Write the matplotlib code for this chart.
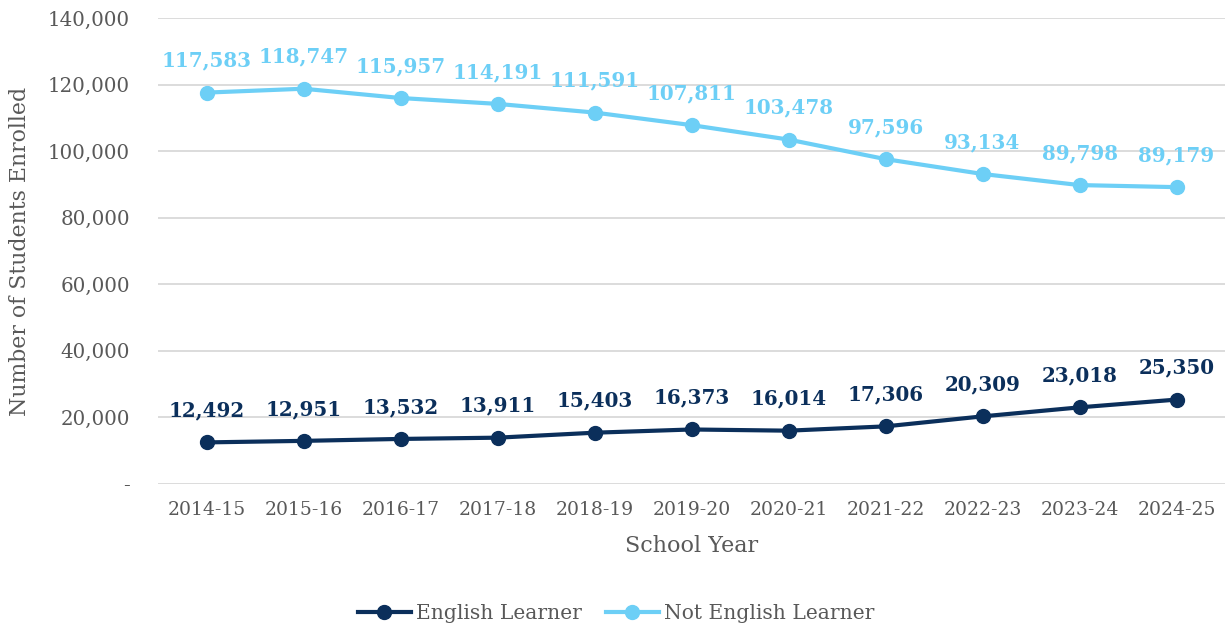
import matplotlib
matplotlib.use("Agg")
import matplotlib.pyplot as plt
from matplotlib.ticker import FuncFormatter

years = ["2014-15", "2015-16", "2016-17", "2017-18", "2018-19", "2019-20",
         "2020-21", "2021-22", "2022-23", "2023-24", "2024-25"]
english_learner = [12492, 12951, 13532, 13911, 15403, 16373, 16014, 17306, 20309, 23018, 25350]
not_english_learner = [117583, 118747, 115957, 114191, 111591, 107811, 103478, 97596, 93134, 89798, 89179]

plt.rcParams['font.family'] = ['DejaVu Serif']
dark = "#0B2F5B"
light = "#6DCFF6"
grey = "#595959"

fig = plt.figure(figsize=(12.25, 6.31), dpi=100)
ax = fig.add_axes([0.129, 0.233, 0.871, 0.7385])

x = list(range(len(years)))
ax.plot(x, english_learner, color=dark, lw=3, marker='o', ms=10, label="English Learner", zorder=3)
ax.plot(x, not_english_learner, color=light, lw=3, marker='o', ms=10, label="Not English Learner", zorder=3)

for xi, v in zip(x, english_learner):
    ax.annotate(f"{v:,}", (xi, v), xytext=(0, 23), textcoords='offset points',
                ha='center', va='center', fontsize=14.3, fontweight='bold', color=dark)
for xi, v in zip(x, not_english_learner):
    ax.annotate(f"{v:,}", (xi, v), xytext=(0, 23), textcoords='offset points',
                ha='center', va='center', fontsize=14.3, fontweight='bold', color=light)

ax.set_xlim(-0.5, len(years) - 0.5)
ax.set_ylim(0, 140000)
ax.set_yticks(range(0, 140001, 20000))
ax.yaxis.set_major_formatter(FuncFormatter(lambda v, p: "-" if v == 0 else f"{int(v):,}"))
ax.set_xticks(x)
ax.set_xticklabels(years)
ax.grid(axis='y', color="#D9D9D9", lw=1.3)
ax.set_axisbelow(True)
for s in ax.spines.values():
    s.set_visible(False)
ax.tick_params(axis='both', length=0, colors=grey)
ax.tick_params(axis='y', pad=20, labelsize=14.3)
ax.tick_params(axis='x', pad=12, labelsize=13.5)
ax.set_xlabel("School Year", fontsize=16, color=grey, labelpad=12)
ax.set_ylabel("Number of Students Enrolled", fontsize=15.8, color=grey, labelpad=12)

leg = fig.legend(loc='center', bbox_to_anchor=(0.503, 0.027), ncol=2, frameon=False,
                 fontsize=14.6, handlelength=2.6, columnspacing=1.2, handletextpad=0.25)
for t in leg.get_texts():
    t.set_color(grey)

fig.savefig("out.png", dpi=100)
